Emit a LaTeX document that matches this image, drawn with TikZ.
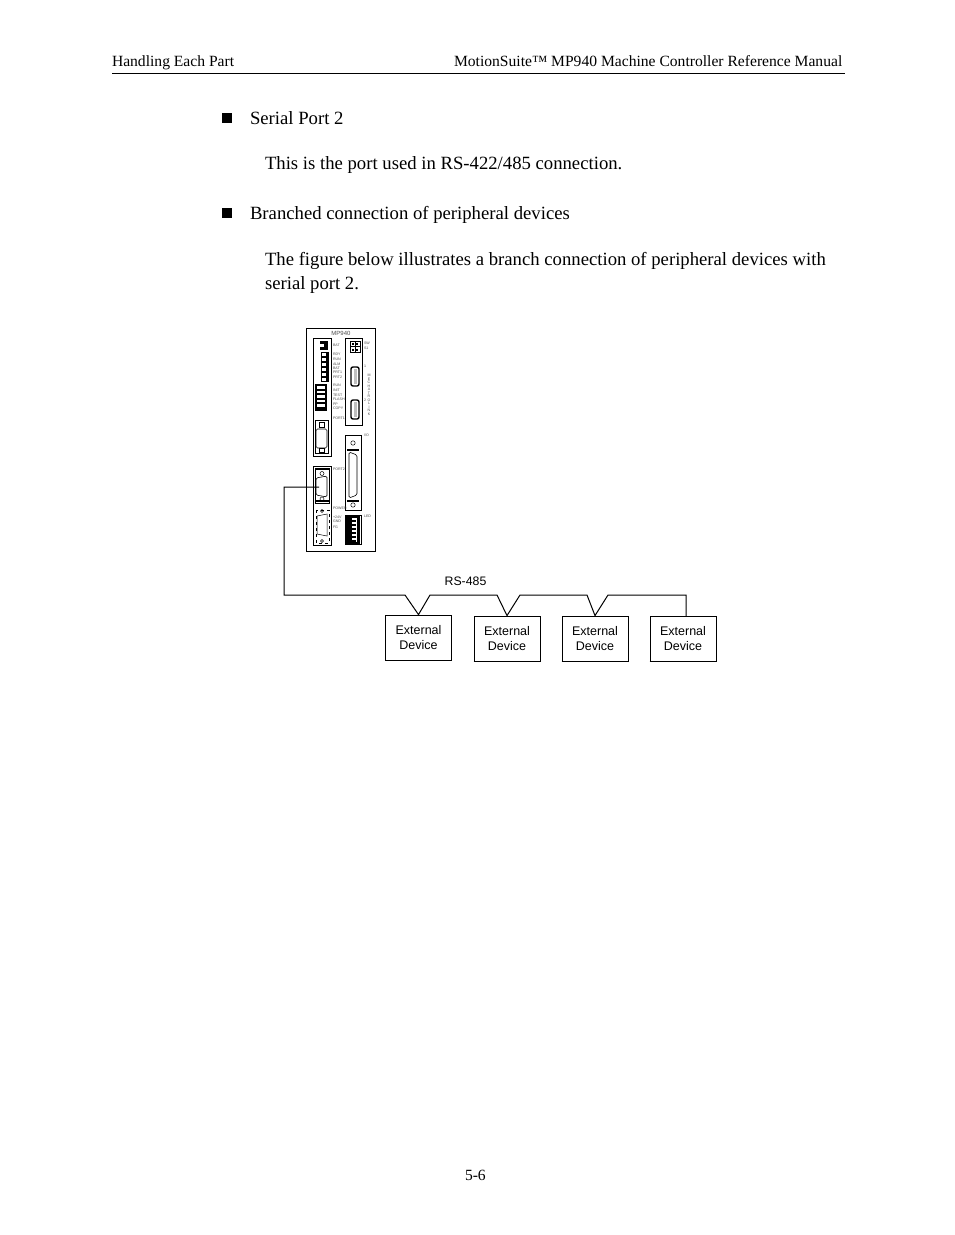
\documentclass[tikz,border=0pt]{standalone}
\usepackage{fontspec}
\setmainfont{Liberation Serif}
\newfontfamily\devicefont{Liberation Sans}
\usetikzlibrary{
    positioning
}
\tikzset{
    % Page text
    page text/.style={anchor=base west,inner sep=0pt,outer sep=0pt,font=\fontsize{18.7}{22}\selectfont},
    head text/.style={anchor=base west,inner sep=0pt,outer sep=0pt,font=\fontsize{15.6}{18}\selectfont},
    bullet box/.style={fill=black,inner sep=0pt,minimum size=10pt},
    %
    % Devices and wiring
    device/.style={draw,line width=.8pt,minimum width=66pt,minimum height=45pt,align=center,inner sep=0pt,font=\devicefont\fontsize{12.5}{14.5}\selectfont},
    wire/.style={line width=1pt},
    %
    % Front panel
    panel/.style={draw,line width=.9pt},
    tiny/.style={inner sep=0pt,outer sep=0pt,text=black!70,font=\devicefont\fontsize{3.6}{4}\selectfont},
    tinyl/.style={tiny,anchor=west},
    dsub/.style={draw,line width=.6pt,rounded corners=1.5pt}
}
\begin{document}
\begin{tikzpicture}[x=1pt,y=-1pt]
    \useasboundingbox[fill=white] (0,0) rectangle (954,1235);

    % header
    \node[head text] (head left) at (112,66) {Handling Each Part};
    \node[head text] (head right) at (454,66) {MotionSuite™ MP940 Machine Controller Reference Manual};
    \draw[line width=.8pt] (112,73) -- (845,73);

    % body text
    \node[bullet box] (bullet one) at (227,118) {};
    \node[page text] (serial) at (250,124) {Serial Port 2};
    \node[page text] (serial text) at (265,169) {This is the port used in RS-422/485 connection.};
    \node[bullet box] (bullet two) at (227,213) {};
    \node[page text] (branch) at (250,219) {Branched connection of peripheral devices};
    \node[page text] (branch one) at (265,265) {The figure below illustrates a branch connection of peripheral devices with};
    \node[page text] (branch two) at (265,289) {serial port 2.};
    \node[head text] (page no) at (465,1180) {5-6};

    % front panel
    \draw[panel] (306,328) rectangle (375,551);
    \node[tiny,font=\devicefont\fontsize{6}{7}\selectfont] (title) at (341,333) {MP940};
    \draw[panel] (313,338) rectangle (331,456);
    \draw[panel] (345,338) rectangle (362,425);
    \draw[panel] (345,435) rectangle (361,510);
    \draw[panel] (345,515) rectangle (361,544);
    \draw[panel] (313,466) rectangle (331,545);

    % battery and status leds
    \fill (320,341) rectangle (328,350);
    \fill[white] (320,344) rectangle (324,347);
    \foreach \y in {352,357,...,377} {
        \draw[line width=.5pt] (321,\y) rectangle (328,\y+4.5);
        \fill (326,\y) rectangle (328,\y+4.5);
    }
    \foreach \y/\name in {345/BAT,354/RDY,359/RUN,364/ALM,368/BAT,372/PRT1,377/PRT2,385/RUN,390/INIT,395/TEST,399/FLASH,404/PP,408/COPY,418/PORT1} {
        \node[tinyl] at (333,\y) {\name};
    }

    % dip switch
    \fill (315,384) rectangle (327,411);
    \foreach \y in {386,390.5,...,405} {
        \fill[white] (317,\y) rectangle (325,\y+2.5);
    }

    % port 1
    \draw[line width=.7pt] (315,420) rectangle (328,453);
    \draw[line width=.5pt] (319,422) rectangle (324,427);
    \draw[dsub] (316,429) rectangle (327,448);
    \draw[line width=.5pt] (319,448) rectangle (324,452);

    % right column connectors
    \draw[line width=.6pt] (350,341) rectangle (360,352);
    \draw[line width=.5pt] (350,346.5) -- (360,346.5) (355,341) -- (355,352);
    \foreach \y in {342.5,348.5} {
        \fill (352,\y) rectangle (354,\y+2);
        \fill (356,\y) rectangle (358,\y+2);
    }
    \foreach \y in {367,400} {
        \draw[line width=1.4pt,rounded corners=2pt] (351,\y) rectangle (359,\y+19);
        \fill[black!25] (353.5,\y+2) rectangle (356.5,\y+17);
    }
    \node[tinyl] at (364,343) {SW};
    \node[tinyl] at (364,348) {S1};
    \node[tinyl] at (364,366) {1};
    \node[tinyl] at (364,400) {2};
    \foreach \l [count=\i] in {M,E,C,H,A,T,R,O,L,I,N,K} {
        \node[tiny] at (369,{372+\i*3.5}) {\l};
    }

    % I/O
    \node[tinyl] at (364,435) {I/O};
    \draw[line width=.5pt] (353,443) circle (2.2);
    \draw[line width=.5pt] (353,505) circle (2.2);
    \fill (347,449) rectangle (359,451);
    \fill (347,500) rectangle (359,502);
    \draw[dsub] (349,452) -- (357,455) -- (357,495) -- (349,498) -- cycle;

    % led block
    \node[tinyl] at (364,516) {LED};
    \fill (346,516) rectangle (360,544);
    \fill[white] (352,518) rectangle (357,542);
    \foreach \y in {520,524,...,540} {
        \fill (350,\y) rectangle (356,\y+1.5);
    }

    % port 2
    \node[tinyl] at (333,469) {PORT2};
    \draw[line width=.6pt] (315,468) rectangle (329,503);
    \fill (315,468) rectangle (329,469.5);
    \fill (315,500) rectangle (329,502);
    \draw[line width=.5pt] (322,473.5) circle (2);
    \draw[line width=.5pt] (322,499) circle (2);
    \draw[dsub] (316,478) -- (327,476) -- (327,497) -- (316,495) -- cycle;
    \coordinate (port two) at (319,487);

    % power
    \draw[line width=.5pt,dashed] (316,510) rectangle (329,543);
    \draw[line width=.5pt] (322,511) circle (1.5);
    \draw[line width=.5pt] (322,541) circle (1.5);
    \draw[line width=.5pt] (317,516) -- (327,514) -- (327,536) -- (317,534) -- cycle;
    \foreach \y/\name in {508/POWER,517/+24V,521/GND,527/FG} {
        \node[tinyl] at (333,\y) {\name};
    }

    % external devices
    \node[device] (dev one) at (418.5,637.5) {External\\Device};
    \node[device] (dev two) at (507,638.5) {External\\Device};
    \node[device] (dev three) at (595,638.5) {External\\Device};
    \node[device] (dev four) at (683,638.5) {External\\Device};
    \foreach \d in {dev two,dev three,dev four} {
        \draw[line width=1.5pt] (\d.south west) -- (\d.south east);
    }
    \node[font=\devicefont\fontsize{12.3}{15}\selectfont,inner sep=0pt] (bus label) at (465.5,581.5) {RS-485};

    % bus wiring
    \draw[wire] (port two) -- (284,487) -- (284,595) -- (405,595) -- (dev one.north)
        -- (430,595) -- (497,595) -- (dev two.north)
        -- (520,595) -- (587,595) -- (dev three.north)
        -- (608,595) -- (686,595) -- (686,616);
\end{tikzpicture}
\end{document}
